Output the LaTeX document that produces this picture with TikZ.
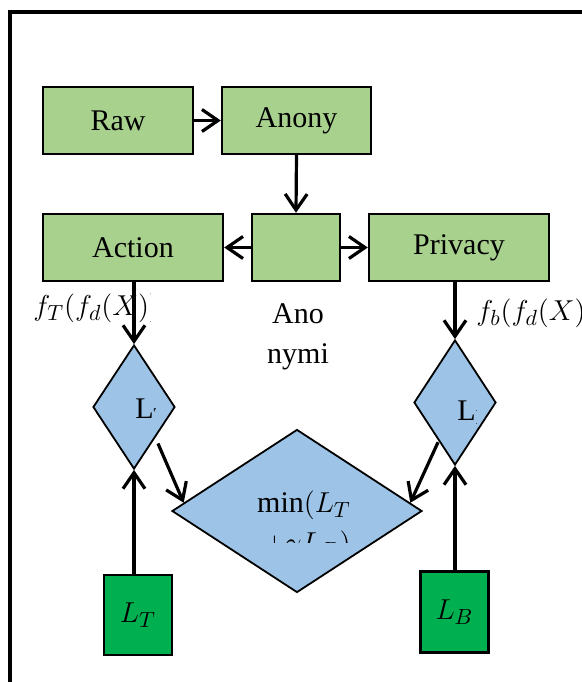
\documentclass[tikz,border=0pt]{standalone}
\usepackage{fontspec}
\setmainfont{Liberation Serif}
\usetikzlibrary{arrows.meta,shapes.geometric,calc}
\definecolor{boxgreen}{HTML}{A9D18E}
\definecolor{dkgreen}{HTML}{00B050}
\definecolor{dblue}{HTML}{9DC3E6}
\begin{document}
\begin{tikzpicture}[x=0.5pt,y=-0.5pt,
  font=\fontsize{15}{18}\selectfont,
  box/.style={draw, line width=1.2pt, fill=boxgreen, minimum height=33.5pt, inner sep=0pt},
  dbox/.style={draw, line width=1.2pt, fill=dkgreen, inner sep=0pt},
  dia/.style={draw, diamond, line width=0.9pt, fill=dblue, inner sep=0pt},
  arr/.style={line width=1.6pt, -{Straight Barb[length=8pt,width=11pt]}},
  lbl/.style={inner sep=0pt}]
\useasboundingbox (0,0) rectangle (582,682);
\clip (0,0) rectangle (582,682);
% frame
\draw[line width=1.75pt] (10,12) rectangle (640,740);
% boxes
\node[box, minimum width=75pt] (raw) at (118,120.5) {Raw};
\node[box, minimum width=74.5pt] (an) at (296.5,120.5) {Anony};
\node[box, minimum width=90pt] (act) at (133,247.5) {Action};
\node[box, minimum width=44pt] (mid) at (296,247.5) {};
\node[box, minimum width=90pt] (pr) at (459,247.5) {Privacy};
% diamonds
\node[dia, minimum width=41pt, minimum height=62pt] (ld) at (134,407) {};
\node[dia, minimum width=41pt, minimum height=62.5pt] (rd) at (455,402.5) {};
\node[dia, minimum width=125pt, minimum height=81.5pt] (bd) at (297,511) {};
% dark green boxes
\node[dbox, minimum width=34pt, minimum height=40pt] (lt) at (138,615) {$L_T$};
\node[dbox, minimum width=34pt, minimum height=40.5pt] (lb) at (454.5,612) {$L_B$};
% arrows
\draw[arr] (raw.east) -- (an.west);
\draw[arr] (an.south) -- (mid.north);
\draw[arr] (mid.west) -- (act.east);
\draw[arr] (mid.east) -- (pr.west);
\draw[arr] (ld.north |- act.south) -- (ld.north);
\draw[arr] (rd.north |- pr.south) -- (rd.north);
\draw[arr] (ld.south |- lt.north) -- (ld.south);
\draw[arr] (rd.south |- lb.north) -- (rd.south);
\draw[arr] ($(ld.south east)+(3,5)$) -- ($(bd.west)!0.1!(bd.north)$);
\draw[arr] ($(rd.south west)+(4,8)$) -- ($(bd.east)!0.1!(bd.north)$);
% texts below middle box
\node[lbl, anchor=base] (t1) at (298,323) {Ano};
\node[lbl, anchor=base] (t2) at (298,363) {nymi};
% clipped labels
\begin{scope}
\clip (0,280) rectangle (150,345);
\node[lbl, anchor=base west] (fl) at (33,315) {$f_T(f_d(X))$};
\end{scope}
\node[lbl, anchor=base west] (fr) at (476,320) {$f_b(f_d(X))$};
\begin{scope}
\clip (100,380) rectangle (155,440);
\node[lbl, anchor=base west] (ll) at (135,418) {L\textsubscript{T}};
\end{scope}
\begin{scope}
\clip (420,380) rectangle (476,440);
\node[lbl, anchor=base west] (rl) at (457,420) {L\textsubscript{B}};
\end{scope}
\begin{scope}
\clip (172,430) rectangle (426,542);
\node[lbl, anchor=base] (m1) at (304,512) {$\min(L_T$};
\node[lbl, anchor=base] (m2) at (307,552) {$+\gamma L_B)$};
\end{scope}
\end{tikzpicture}
\end{document}
